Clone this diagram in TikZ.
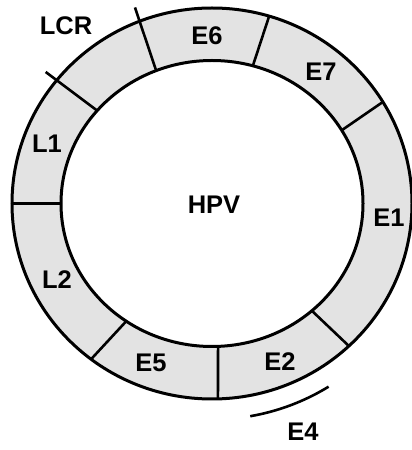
\documentclass[tikz,border=0pt]{standalone}
\usepackage{fontspec}
\setmainfont{Liberation Sans}
\begin{document}
\begin{tikzpicture}[x=1pt,y=1pt,
  ringline/.style={line width=3pt},
  divider/.style={line width=2.6pt},
  genelabel/.style={font=\fontsize{25.5}{27}\selectfont\bfseries, inner sep=0pt}]
\useasboundingbox (0,0) rectangle (412,450);
\coordinate (c) at (212,246.5);
\begin{scope}[shift={(c)}]
  % ring fill
  \fill[black!11, even odd rule] (0,0) ellipse [x radius=200, y radius=195.5]
                                 (0,0) ellipse [x radius=151, y radius=143];
  % dividers
  \draw[divider] (139.5:151pt and 143pt) -- (141:214pt and 209pt);   % LCR / L1
  \draw[divider] (111.7:151pt and 143pt) -- (111:215pt and 210pt);   % LCR / E6
  \draw[divider] (74.3:151pt and 143pt) -- (73.4:200pt and 195.5pt); % E6 / E7
  \draw[divider] (30.8:151pt and 143pt) -- (31.3:200pt and 195.5pt); % E7 / E1
  \draw[divider] (-48.6:151pt and 143pt) -- (-46.8:200pt and 195.5pt); % E1 / E2
  \draw[divider] (-87.7:151pt and 143pt) -- (-88.3:200pt and 195.5pt); % E2 / E5
  \draw[divider] (-124.6:151pt and 143pt) -- (-127.2:200pt and 195.5pt); % E5 / L2
  \draw[divider] (180:151pt and 143pt) -- (180:200pt and 195.5pt); % L2 / L1
  % circles
  \draw[ringline] (0,0) ellipse [x radius=200, y radius=195.5];
  \draw[ringline] (0,0) ellipse [x radius=151, y radius=143];
  % E4 arc
  \draw[line width=2.6pt] (-80:220pt and 216pt) arc[start angle=-80, end angle=-58, x radius=220, y radius=216];
\end{scope}
\node[genelabel] (lcr) at (66,424) {LCR};
\node[genelabel] (e6) at (207,414) {E6};
\node[genelabel] (e7) at (321,378) {E7};
\node[genelabel] (e1) at (389,232) {E1};
\node[genelabel] (hpv) at (214,245) {HPV};
\node[genelabel] (l1) at (47,306) {L1};
\node[genelabel] (l2) at (57,170) {L2};
\node[genelabel] (e5) at (151,87) {E5};
\node[genelabel] (e2) at (280,88) {E2};
\node[genelabel] (e4) at (303,18) {E4};
\end{tikzpicture}
\end{document}
